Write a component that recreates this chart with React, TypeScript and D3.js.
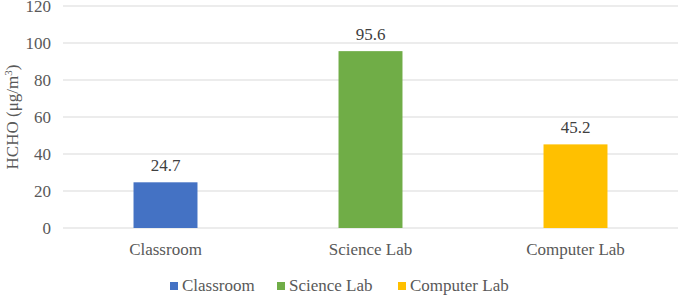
import React from "react";
import * as d3 from "d3";

const categories = ["Classroom", "Science Lab", "Computer Lab"];
const values = [24.7, 95.6, 45.2];
const colors = ["#4472C4", "#70AD47", "#FFC000"];
const yTicks = [0, 20, 40, 60, 80, 100, 120];

const W = 678;
const H = 295;
const FONT = "'Liberation Serif', 'Times New Roman', Tinos, 'DejaVu Serif', serif";
const TEXT = "#595959";

export default function App() {
  const x = d3.scaleBand<string>().domain(categories).range([63, 678]).paddingInner(0.688).paddingOuter(0.344);
  const y = d3.scaleLinear().domain([0, 120]).range([228, 6]);
  const legendX = [170, 277, 398];

  return (
    <svg width={W} height={H} style={{ position: "absolute", left: 0, top: 0, background: "#fff", fontFamily: FONT }}>
      {yTicks.map((t) => (
        <g key={t}>
          <line x1={63} x2={678} y1={y(t)} y2={y(t)} stroke="#d9d9d9" strokeWidth={1} />
          <text x={51} y={y(t)} dy="0.36em" textAnchor="end" fontSize={17} fill={TEXT}>{t}</text>
        </g>
      ))}
      <text transform={`translate(18,117) rotate(-90)`} textAnchor="middle" fontSize={17} fill={TEXT}>
        HCHO (μg/m<tspan dy={-6} fontSize={11}>3</tspan><tspan dy={6}>)</tspan>
      </text>
      {categories.map((c, i) => {
        const bx = x(c)!;
        const bw = x.bandwidth();
        return (
          <g key={c}>
            <rect x={bx} y={y(values[i])} width={bw} height={y(0) - y(values[i])} fill={colors[i]} />
            <text x={bx + bw / 2} y={y(values[i]) - 11} textAnchor="middle" fontSize={17} fill="#404040">{values[i].toFixed(1)}</text>
            <text x={bx + bw / 2} y={255} textAnchor="middle" fontSize={17} fill={TEXT}>{c}</text>
          </g>
        );
      })}
      {categories.map((c, i) => (
        <g key={"l" + c}>
          <rect x={legendX[i]} y={282} width={8} height={8} fill={colors[i]} />
          <text x={legendX[i] + 12} y={291} fontSize={17} fill={TEXT}>{c}</text>
        </g>
      ))}
    </svg>
  );
}
